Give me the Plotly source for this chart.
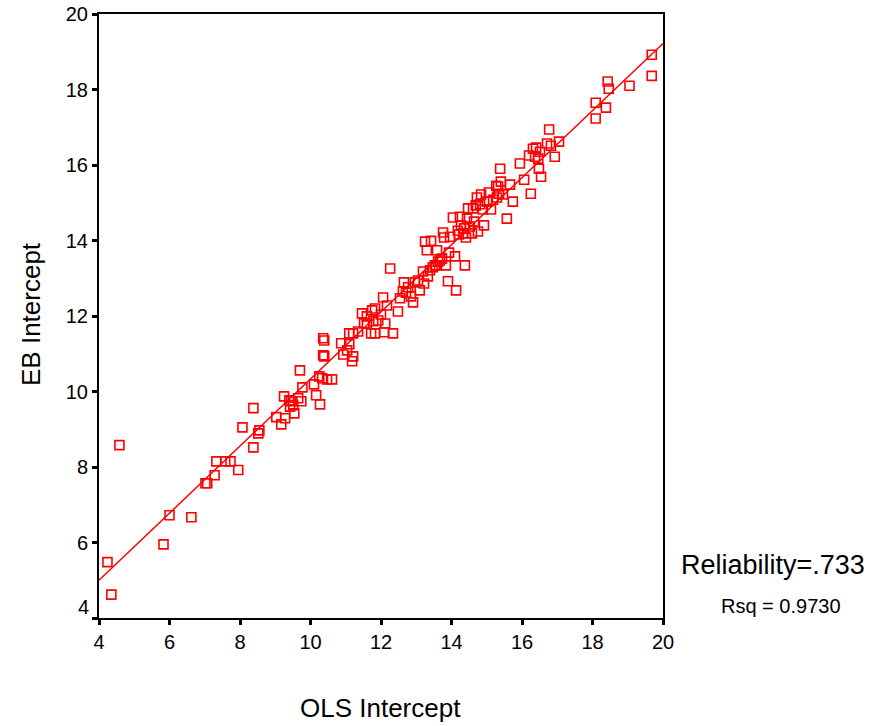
import plotly.graph_objects as go

ols = [4.24, 4.35, 4.58, 5.83, 6.00, 6.62, 7.02, 7.07, 7.33, 7.28, 7.58, 7.73, 7.95, 8.07, 8.38, 8.38,
       8.52, 8.55, 9.03, 9.17, 9.25, 9.28, 9.40, 9.45, 9.51, 9.54, 9.42, 9.65, 9.70, 9.74, 9.77,
       10.10, 10.16, 10.27, 10.25, 10.33, 10.36, 10.39, 10.36, 10.39, 10.47, 10.61, 10.87, 10.93,
       11.04, 11.10, 11.10, 11.21, 11.21, 11.18, 11.35, 11.46, 11.52, 11.60, 11.60, 11.72, 11.78,
       11.75, 11.83, 11.83, 11.92, 12.00, 12.06, 12.09, 12.12, 12.17, 12.26, 12.34, 12.48, 12.54,
       12.62, 12.65, 12.71, 12.77, 12.85, 12.91, 12.96, 13.05, 13.10, 13.19, 13.22, 13.25, 13.30,
       13.33, 13.39, 13.42, 13.47, 13.53, 13.56, 13.59, 13.62, 13.67, 13.73, 13.76, 13.79, 13.84,
       13.90, 13.93, 13.96, 14.04, 14.10, 14.13, 14.18, 14.21, 14.24, 14.27, 14.33, 14.36, 14.38,
       14.41, 14.44, 14.47, 14.52, 14.58, 14.61, 14.64, 14.69, 14.72, 14.75, 14.81, 14.84, 14.89,
       14.92, 15.01, 15.06, 15.12, 15.18, 15.27, 15.29, 15.32, 15.35, 15.38, 15.40, 15.46, 15.57,
       15.66, 15.74, 15.94, 16.06, 16.20, 16.25, 16.31, 16.37, 16.40, 16.46, 16.48, 16.51, 16.54,
       16.71, 16.77, 16.82, 16.93, 17.05, 18.09, 18.09, 18.38, 18.43, 18.46, 19.05, 19.68, 19.68]
eb = [5.48, 4.62, 8.58, 5.95, 6.72, 6.67, 7.57, 7.57, 8.15, 7.78, 8.15, 8.15, 7.92, 9.05, 8.52, 9.56,
      8.89, 8.97, 9.32, 9.13, 9.87, 9.29, 9.77, 9.74, 9.64, 9.42, 9.60, 9.82, 10.56, 9.74, 10.11,
      10.19, 9.90, 9.66, 10.40, 10.35, 11.41, 11.35, 10.96, 10.93, 10.32, 10.32, 11.28, 10.98,
      11.09, 11.25, 11.54, 11.54, 10.93, 10.80, 11.59, 12.07, 11.80, 11.99, 11.80, 11.54, 11.86,
      12.15, 12.20, 11.54, 11.88, 12.04, 12.49, 11.57, 11.80, 12.28, 13.26, 11.54, 12.12, 12.47,
      12.65, 12.89, 12.62, 12.76, 12.52, 12.36, 12.89, 12.94, 12.68, 13.18, 12.86, 13.97, 13.74,
      13.05, 13.21, 13.99, 13.29, 13.34, 13.34, 13.74, 13.44, 13.47, 13.52, 14.21, 14.08, 13.34,
      12.92, 13.68, 14.10, 14.61, 13.58, 12.68, 14.26, 14.16, 14.63, 14.40, 14.19, 14.32, 13.34,
      14.08, 14.58, 14.85, 14.37, 14.19, 14.85, 14.50, 14.93, 15.14, 14.24, 14.96, 15.22, 14.82,
      14.40, 15.03, 15.27, 14.82, 15.08, 15.45, 15.14, 15.43, 15.24, 15.90, 15.56, 15.22, 14.58,
      15.48, 15.03, 16.04, 15.61, 16.25, 15.24, 16.43, 16.22, 16.46, 16.17, 15.90, 16.35, 15.69,
      16.57, 16.94, 16.51, 16.22, 16.62, 17.65, 17.23, 17.52, 18.21, 18.02, 18.10, 18.92, 18.36]

fit_x = [4, 20]
fit_y = [5.0, 19.22]

tick_vals = [4, 6, 8, 10, 12, 14, 16, 18, 20]
x_tick_text = ["4", "6", "8", "10", "12", "14", "16", "18", "20"]
y_tick_text = ["", "6", "8", "10", "12", "14", "16", "18", "20"]

font = "Liberation Sans, Arial, sans-serif"

W, H = 875, 726
L, T = 99, 14
R, B = 875 - 663, 726 - 618
pw, ph = W - L - R, H - T - B


def px_to_paper_x(px):
    return (px - L) / pw


def py_to_paper_y(py):
    return 1 - (py - T) / ph


fig = go.Figure()
fig.add_trace(go.Scatter(x=ols, y=eb, mode="markers",
                         marker=dict(symbol="square-open", size=9, color="#ff0000",
                                     line=dict(color="#ff0000", width=1.6)),
                         showlegend=False, hoverinfo="skip"))
fig.add_trace(go.Scatter(x=fit_x, y=fit_y, mode="lines",
                         line=dict(color="#ff0000", width=1.5), showlegend=False,
                         hoverinfo="skip"))

axis_common = dict(showgrid=False, zeroline=False, showline=True, linecolor="black",
                   linewidth=2, mirror=True, ticks="outside", ticklen=5, tickwidth=3,
                   tickcolor="black", automargin=False,
                   tickfont=dict(family=font, size=20, color="black"))
fig.update_xaxes(range=[4, 20], tickvals=tick_vals, ticktext=x_tick_text, **axis_common)
fig.update_yaxes(range=[4, 20], tickvals=tick_vals, ticktext=y_tick_text, **axis_common)

fig.update_layout(
    width=W, height=H,
    margin=dict(l=L, r=R, t=T, b=B, autoexpand=False),
    paper_bgcolor="white", plot_bgcolor="white",
    font=dict(family=font, color="black"),
    annotations=[
        dict(text="4", x=0, xref="paper", y=4.3, yref="y", xanchor="right", yanchor="middle",
             xshift=-8, showarrow=False, font=dict(size=20)),
        dict(text="EB Intercept", x=px_to_paper_x(31), xref="paper", y=py_to_paper_y(314),
             yref="paper", xanchor="center", yanchor="middle",
             showarrow=False, textangle=-90, font=dict(size=26)),
        dict(text="OLS Intercept", x=px_to_paper_x(380), xref="paper", y=py_to_paper_y(708),
             yref="paper", xanchor="center", yanchor="middle",
             showarrow=False, font=dict(size=26)),
        dict(text="Reliability=.733", x=px_to_paper_x(679), xref="paper", y=py_to_paper_y(565),
             yref="paper", xanchor="left", yanchor="middle", showarrow=False,
             font=dict(size=27)),
        dict(text="Rsq = 0.9730", x=px_to_paper_x(719), xref="paper", y=py_to_paper_y(606),
             yref="paper", xanchor="left", yanchor="middle", showarrow=False,
             font=dict(size=20)),
    ],
)

fig.write_html("out.html", config={"displayModeBar": False},
               post_script="document.body.style.margin='0';document.body.style.padding='0';")
